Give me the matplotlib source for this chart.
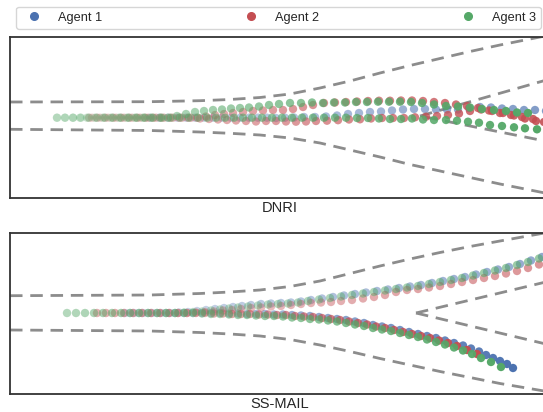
import numpy as np
import matplotlib
matplotlib.use("Agg")
import matplotlib.pyplot as plt
from matplotlib.lines import Line2D
from matplotlib.colors import to_rgba

plt.rcParams['font.family'] = ['Liberation Sans', 'DejaVu Sans']

agent_labels = ["Agent 1", "Agent 2", "Agent 3"]
agent_colors = ["#4C72B0", "#C44E52", "#55A868"]
panel_titles = ["DNRI", "SS-MAIL"]

# ---------------- DNRI panel: trajectories (x along road, y lateral) ----------------
dnri_a1_x = [150,159,168,177,186,195,204,213,222,231,240,249,258,267,276,285,294,304,315,326,
             337,348,359,370,381,392,403,414,425,436,447,458,469,480,491,502,513,524,535,546]
dnri_a1_y = [-1.7]*14 + [-2,-1.7,-1.5,-1,-1,-0.5,0.5,2,3,4,4.5,5.5,6.5,7,7,6.5,6.5,6.5,8,9,
                         8.5,7.5,7,6,6,5]

dnri_a2_up_x = [89,97,105,113,121,129,137,145,153,161,170,179,188,197,206,215,224,233,243,253,
                263,273,283,293,303,313,324,335,346,357,368,379,390,401,412,423,434,445,456,467,
                478,489,500,511,522,533,544]
dnri_a2_up_y = [-1.7]*14 + [-0.5,1,2,3,4,5,5.5,6,6,7,9,11,13,13.5,14,14.5,15,15.3,15.3,15.5,
                            15.5,15,14,13,11.5,10,8,5.5,3,1,-1,-3,-6]
dnri_a2_lo_x = [92,100,108,116,124,132,140,148,156,164,173,182,191,200,209,218,227,236,246,256,
                266,276,286,296,306,316,327,338,349,360,371,382,393,404,415,426,437,448,459,470,
                481,492,503,514,525,536]
dnri_a2_lo_y = [-1.7]*13 + [-2.5,-3,-3.5,-4,-4.5,-5,-5.5,-5,-5,-5.5,-5.7,-5.5,-5,-4.7,-4.2,-3.5,
                            -3.3,-2.5,-2,-2,-2,-1.3,-0.7,0,1,2.5,5,6.5,5,3,0.5,-2.5,-5]

dnri_a3_up_x = [57,65,73,80,87,95,103,111,119,127,135,143,151,160,168,177,186,195,204,213,
                222,231,240,249,259,269,279,290,301,312,323,334,345,356,367,378,389,400,411,422,
                434,446,458,470,482,494,506,517,528]
dnri_a3_up_y = [-1.7]*15 + [0,2,4,5,6,6.5,7.5,8,8.5,9.5,11,12,13,13,13.5,13,13.5,13.5,14,14,
                            14.3,14.3,14.3,14,13,11.5,10,9.5,8.5,7,6,5,3.5,3]
dnri_a3_lo_x = [57,65,73,81,89,97,105,113,121,129,137,145,153,162,171,180,189,198,207,216,
                225,234,243,252,262,272,282,292,302,313,324,335,346,357,368,379,390,401,412,423,
                434,446,457,468,479,490,502,514,525,537]
dnri_a3_lo_y = [-1.7]*33 + [-2,-2,-2.5,-3,-3,-2.5,-3.5,-4,-4,-4.7,-5.7,-6.7,-9,-10,-11.3,-12.3,-13.3]

# ---------------- SS-MAIL panel ----------------
ssmail_a1_up_x = [125,134,143,152,161,170,179,188,197,206,215,224,233,242,251,261,271,281,291,301,
                  311,322,333,344,355,366,377,388,399,410,421,432,443,454,465,476,487,498,509,520,
                  531,542]
ssmail_a1_up_y = [0]*6 + [0.5,1,2,3,4,5,6,7,8,9,9.5,10,10.5,11.5,13,14.5,16,17.5,19,20.5,
                          22,23.5,25,26.5,28,30,32,34,36,38.5,41,43.5,46,49,52.5,56]
ssmail_a1_lo_x = [130,139,148,157,166,175,184,193,202,211,220,229,238,247,256,265,274,283,292,301,
                  310,319,328,337,346,355,364,373,382,391,400,409,418,427,436,445,454,463,471,479,
                  486,493,500,507,513]
ssmail_a1_lo_y = [0]*9 + [0,0,-0.5,-0.5,-1,-1,-1,-1.5,-1.5,-2,-2.5,-3,-4,-5,-6,-7,-8.5,-10,-12,-13.5,
                          -15,-17,-19,-21,-23,-25,-27.5,-30,-32.5,-35.5,-38.5,-42,-45,-48,-51,-55]

ssmail_a2_up_x = [97,106,115,124,133,142,151,160,169,178,187,196,205,214,223,232,241,251,261,271,
                  281,291,301,311,321,331,341,352,363,374,385,396,407,418,429,440,451,462,473,484,
                  495,506,517,528,539,550]
ssmail_a2_up_y = [0]*10 + [0,0.5,1,1.5,2.5,3,4,5,5.5,6.5,7,8,9,10,10.5,11,12,13,14.5,16,
                           18,21,23,24,25.5,27,29,31,33,35,37,39.5,42,45,48.5,52]
ssmail_a2_lo_x = [97,106,115,124,133,142,151,160,169,178,187,196,205,214,223,232,241,250,259,268,
                  277,286,295,304,313,322,331,340,349,358,367,376,385,394,403,412,421,430,439,448,
                  457,467,477]
ssmail_a2_lo_y = [0]*12 + [0,-0.5,-0.5,-1,-1,-1,-1.5,-1.5,-2,-2,-3,-3.5,-4,-5,-6,-7,-8.5,-10,-11.5,-13.5,
                           -15,-17,-19,-21,-23,-25,-27.5,-30,-33,-37,-41]

ssmail_a3_up_x = [67,76,85,94,103,112,121,130,139,148,157,166,175,184,193,202,211,220,229,238,
                  248,258,268,278,288,298,308,319,330,341,352,363,374,385,396,407,418,429,440,451,
                  462,473,484,495,506,517,528,539,550]
ssmail_a3_up_y = [0]*13 + [0.5,1,1.5,2.5,3.5,4.5,5.5,6.5,7.5,8.5,9,9.5,10.5,12,13.5,15,16.5,18,19.5,21,
                           22.5,24,25.5,27,29,31,33,35,37.5,40,42.5,45,48,51,54.5,58]
ssmail_a3_lo_x = [67,76,85,94,103,112,121,130,139,148,157,166,175,184,193,202,211,220,229,238,
                  247,256,265,274,283,292,301,310,319,328,337,346,355,364,373,382,391,400,409,418,
                  427,436,445,454,463,472,481,491,501]
ssmail_a3_lo_y = [0]*15 + [-0.5,-1,-1,-1.5,-2,-2,-2.5,-3,-3,-3.5,-4.5,-5,-6,-6.5,-7.5,-8.5,-10,-11.5,-13,-15,
                           -16.5,-18,-20,-22,-24,-26.5,-29,-31.5,-34.5,-37.5,-41,-45,-49,-54]

# final opacity of each trajectory (fades in along time)
dnri_alpha_end = {"a1": 0.7, "a2_up": 0.9, "a2_lo": 0.9, "a3_up": 1.0, "a3_lo": 1.0}
ssmail_alpha_end = {"a1_up": 0.6, "a1_lo": 1.0, "a2_up": 0.6, "a2_lo": 1.0, "a3_up": 0.6, "a3_lo": 1.0}

# ---------------- road boundaries (dashed) ----------------
road_x = [10, 150, 200, 230, 260, 290, 320, 350, 380, 410, 440, 470, 500, 550]
dnri_outer_up_y = [14, 14.3, 15.3, 16.5, 18.5, 22, 28, 35, 43, 50.5, 57.5, 64.5, 71, 81]
dnri_outer_lo_y = [-13.3, -14.5, -16, -17.3, -19, -22, -27, -34, -41, -48.5, -55, -61.5, -68, -78]
dnri_inner_up_x = [420, 550]
dnri_inner_up_y = [0, 37]
dnri_inner_lo_x = [425, 550]
dnri_inner_lo_y = [-1, -26]

ssmail_outer_up_y = [17.3, 18, 19.5, 21, 23, 26.5, 32, 39.5, 47, 54, 60.5, 66.5, 72, 81]
ssmail_outer_lo_y = [-17, -18, -19.5, -21, -23, -26.5, -32, -38.5, -45.5, -52, -58.5, -64.5, -70.5, -79]
ssmail_inner_up_x = [416, 550]
ssmail_inner_up_y = [0, 32]
ssmail_inner_lo_x = [416, 550]
ssmail_inner_lo_y = [0, -32]

panels = [
    dict(title="DNRI", ylim=(-82, 79),
         trajs=[(0, dnri_a1_x, dnri_a1_y, dnri_alpha_end["a1"]),
                (1, dnri_a2_up_x, dnri_a2_up_y, dnri_alpha_end["a2_up"]),
                (1, dnri_a2_lo_x, dnri_a2_lo_y, dnri_alpha_end["a2_lo"]),
                (2, dnri_a3_up_x, dnri_a3_up_y, dnri_alpha_end["a3_up"]),
                (2, dnri_a3_lo_x, dnri_a3_lo_y, dnri_alpha_end["a3_lo"])],
         roads=[(road_x, dnri_outer_up_y), (road_x, dnri_outer_lo_y),
                (dnri_inner_up_x, dnri_inner_up_y), (dnri_inner_lo_x, dnri_inner_lo_y)],
         rect=[10/543, 1-198/412, 540/543, 161/412]),
    dict(title="SS-MAIL", ylim=(-81, 80),
         trajs=[(0, ssmail_a1_up_x, ssmail_a1_up_y, ssmail_alpha_end["a1_up"]),
                (0, ssmail_a1_lo_x, ssmail_a1_lo_y, ssmail_alpha_end["a1_lo"]),
                (1, ssmail_a2_up_x, ssmail_a2_up_y, ssmail_alpha_end["a2_up"]),
                (1, ssmail_a2_lo_x, ssmail_a2_lo_y, ssmail_alpha_end["a2_lo"]),
                (2, ssmail_a3_up_x, ssmail_a3_up_y, ssmail_alpha_end["a3_up"]),
                (2, ssmail_a3_lo_x, ssmail_a3_lo_y, ssmail_alpha_end["a3_lo"])],
         roads=[(road_x, ssmail_outer_up_y), (road_x, ssmail_outer_lo_y),
                (ssmail_inner_up_x, ssmail_inner_up_y), (ssmail_inner_lo_x, ssmail_inner_lo_y)],
         rect=[10/543, 1-394/412, 540/543, 161/412]),
]

fig = plt.figure(figsize=(5.43, 4.12), dpi=100)

for p in panels:
    ax = fig.add_axes(p["rect"])
    for rx, ry in p["roads"]:
        ax.plot(rx, ry, ls=(0, (4.5, 2.8)), color="#8c8c8c", lw=2, zorder=1)
    for ai, xs, ys, a_end in p["trajs"]:
        n = len(xs)
        rgba = np.array([to_rgba(agent_colors[ai])] * n)
        rgba[:, 3] = np.linspace(0.25, a_end, n)
        ax.scatter(xs, ys, s=36, c=rgba, linewidths=0, zorder=2 + ai)
    ax.set_xlim(10, 550)
    ax.set_ylim(*p["ylim"])
    ax.set_xticks([])
    ax.set_yticks([])
    for sp in ax.spines.values():
        sp.set_color("#333333")
        sp.set_linewidth(1.3)
    ax.set_xlabel(p["title"], fontsize=10.5, labelpad=2, color="#262626")

handles = [Line2D([], [], marker='o', ls='', color=c, markersize=5.5) for c in agent_colors]
leg = fig.legend(handles, agent_labels, loc='lower left',
                 bbox_to_anchor=(16/543, 1-29/412, 525/543, 22/412),
                 mode='expand', ncol=3, borderaxespad=0, fontsize=9.2,
                 handletextpad=0.9, frameon=True, fancybox=True)
leg.get_frame().set_edgecolor("#cccccc")
leg.get_frame().set_linewidth(1.0)
for t in leg.get_texts():
    t.set_color("#262626")

fig.savefig("out.png", dpi=100)
